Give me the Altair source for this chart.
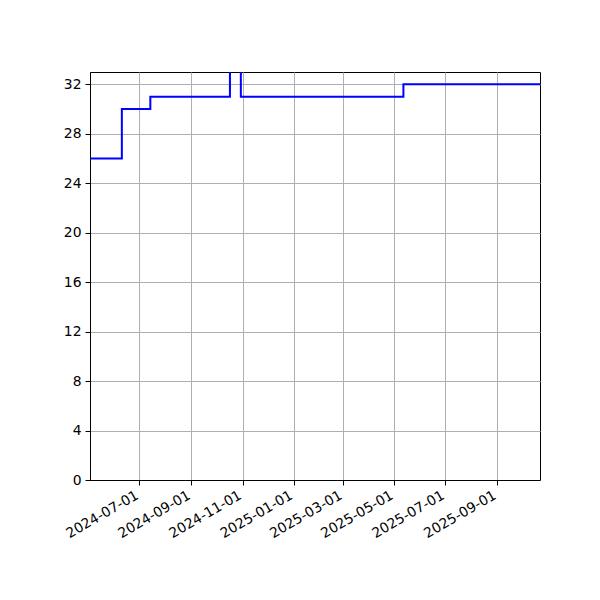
import altair as alt
import pandas as pd

# Step changes of the series (value holds until next date)
dates = ["2024-05-03", "2024-06-10", "2024-07-14", "2024-10-17", "2024-10-30", "2025-05-12", "2025-10-22"]
values = [26, 30, 31, 40, 31, 32, 32]

y_ticks = [0, 4, 8, 12, 16, 20, 24, 28, 32]
x_ticks = [(2024, 7), (2024, 9), (2024, 11), (2025, 1), (2025, 3), (2025, 5), (2025, 7), (2025, 9)]

df = pd.DataFrame({"date": dates, "value": values})

x_vals = [alt.DateTime(year=y, month=m, date=1, utc=True) for y, m in x_ticks]

font = "DejaVu Sans"
fs = 13.9

chart = alt.Chart(df).mark_line(
    interpolate="step-after", clip=True, color="#0000ff", strokeWidth=2
).encode(
    x=alt.X(
        "date:T",
        scale=alt.Scale(
            type="utc",
            domain=[alt.DateTime(year=2024, month=5, date=3, utc=True),
                    alt.DateTime(year=2025, month=10, date=22, utc=True)],
            nice=False,
        ),
        axis=alt.Axis(
            values=x_vals, labelExpr="utcFormat(datum.value, '%Y-%m-%d')", title=None,
            labelAngle=-30, labelAlign="right", labelBaseline="top",
            grid=True, gridColor="#b0b0b0", gridWidth=1,
            tickColor="black", tickSize=5, tickWidth=1,
            domainColor="black", domainWidth=1,
            labelFont=font, labelFontSize=fs, labelColor="black", labelPadding=3,
            labelOffset=-6,
            labelOverlap=False, labelFlush=False,
        ),
    ),
    y=alt.Y(
        "value:Q",
        scale=alt.Scale(domain=[0, 33], nice=False, zero=True),
        axis=alt.Axis(
            values=y_ticks, title=None,
            grid=True, gridColor="#b0b0b0", gridWidth=1,
            tickColor="black", tickSize=5, tickWidth=1,
            domainColor="black", domainWidth=1,
            labelFont=font, labelFontSize=fs, labelColor="black", labelPadding=4,
            labelOverlap=False, labelFlush=False,
        ),
    ),
).properties(
    width=450, height=408,
    autosize=alt.AutoSizeParams(type="none"),
    padding={"left": 82, "top": 64, "right": 52, "bottom": 112},
).configure(
    background="white"
).configure_view(
    stroke="black", strokeWidth=1
)

chart.save("out.html", embed_options={"renderer": "svg", "actions": False})
